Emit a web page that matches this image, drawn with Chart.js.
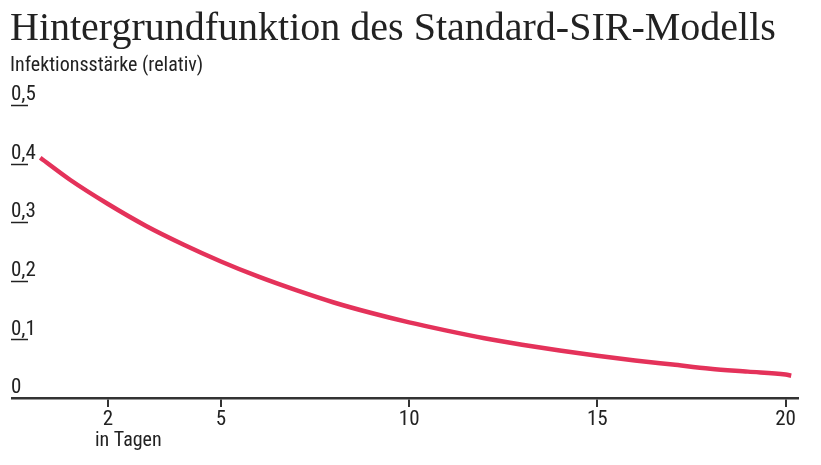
<!DOCTYPE html>
<html lang="de">
<head>
<meta charset="utf-8">
<title>Hintergrundfunktion des Standard-SIR-Modells</title>
<script src="https://cdn.jsdelivr.net/npm/chart.js@4.4.1/dist/chart.umd.min.js"></script>
<style>
  html, body { margin: 0; padding: 0; background: #fff; }
  canvas { display: block; }
</style>
</head>
<body>
<canvas id="myChart" width="821" height="465"></canvas>
<script>
// values
const days = [0.2, 1, 2, 3, 4, 5, 6, 7, 8, 9, 10, 11, 12, 13, 14, 15, 16, 17, 18, 19, 20, 20.15];
const strength = [0.41, 0.372, 0.331, 0.294, 0.262, 0.233, 0.207, 0.184, 0.163, 0.145, 0.129,
                  0.115, 0.102, 0.091, 0.081, 0.072, 0.064, 0.057, 0.050, 0.045, 0.040, 0.038];
const xTicks = [2, 5, 10, 15, 20];
const yTicks = [0, 0.1, 0.2, 0.3, 0.4, 0.5];

const titleText = 'Hintergrundfunktion des Standard-SIR-Modells';
const subtitleText = 'Infektionsstärke (relativ)';
const xUnitText = 'in Tagen';

const narrow = '"Liberation Sans Narrow", "Roboto Condensed", "DejaVu Sans Condensed", "Liberation Sans", sans-serif';
const ink = '#222';
const axisInk = '#333';
const red = '#e4325a';

const fmt = v => v === 0 ? '0' : v.toFixed(1).replace('.', ',');

// titles, short tick marks under "0," and the "in Tagen" note
const decorations = {
  id: 'decorations',
  afterDraw(chart) {
    const ctx = chart.ctx;
    const x = chart.scales.x;
    const y = chart.scales.y;
    ctx.save();
    ctx.fillStyle = ink;
    ctx.textBaseline = 'alphabetic';
    ctx.textAlign = 'left';
    ctx.font = '40px "Liberation Serif", "DejaVu Serif", serif';
    ctx.fillText(titleText, 10, 40);
    ctx.font = '20px ' + narrow;
    ctx.fillText(subtitleText, 10, 71);

    ctx.strokeStyle = ink;
    ctx.lineWidth = 1.5;
    yTicks.forEach(v => {
      if (v === 0) return;
      const py = Math.round(y.getPixelForValue(v)) + 0.5;
      ctx.beginPath();
      ctx.moveTo(11, py);
      ctx.lineTo(28, py);
      ctx.stroke();
    });

    ctx.font = '20px ' + narrow;
    ctx.fillText(xUnitText, x.getPixelForValue(2) - 13, 446);
    ctx.restore();
  }
};

new Chart(document.getElementById('myChart'), {
  type: 'line',
  data: {
    datasets: [{
      label: 'Infektionsstärke',
      data: days.map((d, i) => ({ x: d, y: strength[i] })),
      borderColor: red,
      borderWidth: 4.5,
      pointRadius: 0,
      cubicInterpolationMode: 'monotone',
      fill: false
    }]
  },
  options: {
    responsive: false,
    animation: false,
    layout: { padding: { top: 105, left: 12, right: 23, bottom: 0 } },
    plugins: {
      legend: { display: false },
      tooltip: { enabled: false }
    },
    scales: {
      x: {
        type: 'linear',
        min: -0.55,
        max: 20.33,
        afterBuildTicks: s => { s.ticks = xTicks.map(v => ({ value: v })); },
        afterFit: s => { s.height = 67; },
        border: { display: true, color: axisInk, width: 2.5 },
        grid: { drawOnChartArea: false, drawTicks: true, tickLength: 9, color: axisInk, lineWidth: 2 },
        ticks: {
          color: ink,
          font: { family: narrow, size: 21 },
          padding: 0,
          maxRotation: 0,
          callback: v => String(v)
        }
      },
      y: {
        min: 0,
        max: 0.5,
        afterBuildTicks: s => { s.ticks = yTicks.map(v => ({ value: v })); },
        afterFit: s => { s.width = 0; },
        border: { display: false },
        grid: { display: false, drawTicks: false },
        ticks: {
          mirror: true,
          padding: -1,
          labelOffset: -10,
          color: ink,
          font: { family: narrow, size: 21 },
          callback: v => fmt(v)
        }
      }
    }
  },
  plugins: [decorations]
});
</script>
</body>
</html>
